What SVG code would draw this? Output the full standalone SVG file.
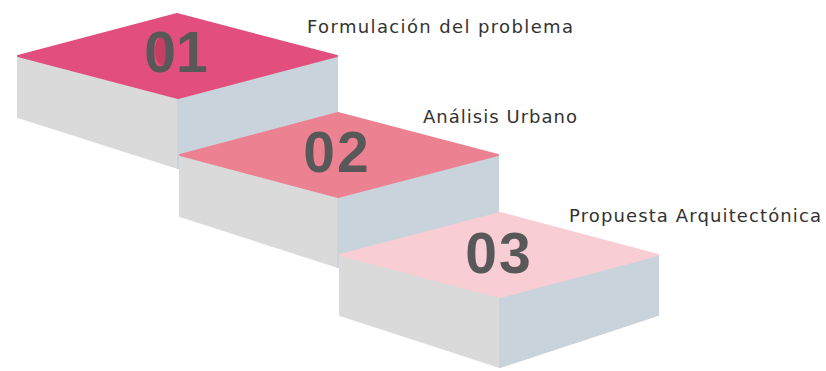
<svg xmlns="http://www.w3.org/2000/svg" width="826" height="371" viewBox="0 0 826 371">
<style>
.lf{fill:#dadada;stroke:#dadada;stroke-width:2;stroke-linejoin:round}
.rf{fill:#c9d3db;stroke:#c9d3db;stroke-width:2;stroke-linejoin:round}
.num{font-family:"Liberation Sans",Arial,sans-serif;font-weight:bold;font-size:57px;fill:#585858;text-anchor:middle}
.lbl{font-family:"DejaVu Sans","Open Sans",sans-serif;font-size:18px;fill:#333333}
</style>
<g id="step1" transform="translate(18,56)">
<path class="lf" d="M0,0 L160,42 L160,112 L0,61 Z"/>
<path class="rf" d="M160,42 L319,0 L319,61 L160,112 Z"/>
<path d="M0,0 L159,-42 L319,0 L160,42 Z" fill="#e24e7e" stroke="#e24e7e" stroke-width="2" stroke-linejoin="round"/>
<ellipse cx="144" cy="-5" rx="7" ry="14" fill="#c63d66"/>
<text class="num" x="158" y="16">01</text>
</g>
<g id="step2" transform="translate(180,155)">
<path class="lf" d="M0,0 L158,42 L158,112 L0,61 Z"/>
<path class="rf" d="M158,42 L318,0 L318,61 L158,112 Z"/>
<path d="M0,0 L158,-42 L318,0 L158,42 Z" fill="#ec8291" stroke="#ec8291" stroke-width="2" stroke-linejoin="round"/>
<text class="num" x="157" y="17" letter-spacing="2">02</text>
</g>
<g id="step3" transform="translate(340,255)">
<path class="lf" d="M0,0 L160,42 L160,112 L0,60 Z"/>
<path class="rf" d="M160,42 L318,0 L318,60 L160,112 Z"/>
<path d="M0,0 L160,-42 L318,0 L160,42 Z" fill="#f8cdd4" stroke="#f8cdd4" stroke-width="2" stroke-linejoin="round"/>
<text class="num" x="159" y="18" letter-spacing="2">03</text>
</g>
<g id="labels">
<text class="lbl" x="307" y="33" textLength="266" lengthAdjust="spacing">Formulación del problema</text>
<text class="lbl" x="423" y="123" textLength="154" lengthAdjust="spacing">Análisis Urbano</text>
<text class="lbl" x="569" y="222" textLength="252" lengthAdjust="spacing">Propuesta Arquitectónica</text>
</g>
</svg>
